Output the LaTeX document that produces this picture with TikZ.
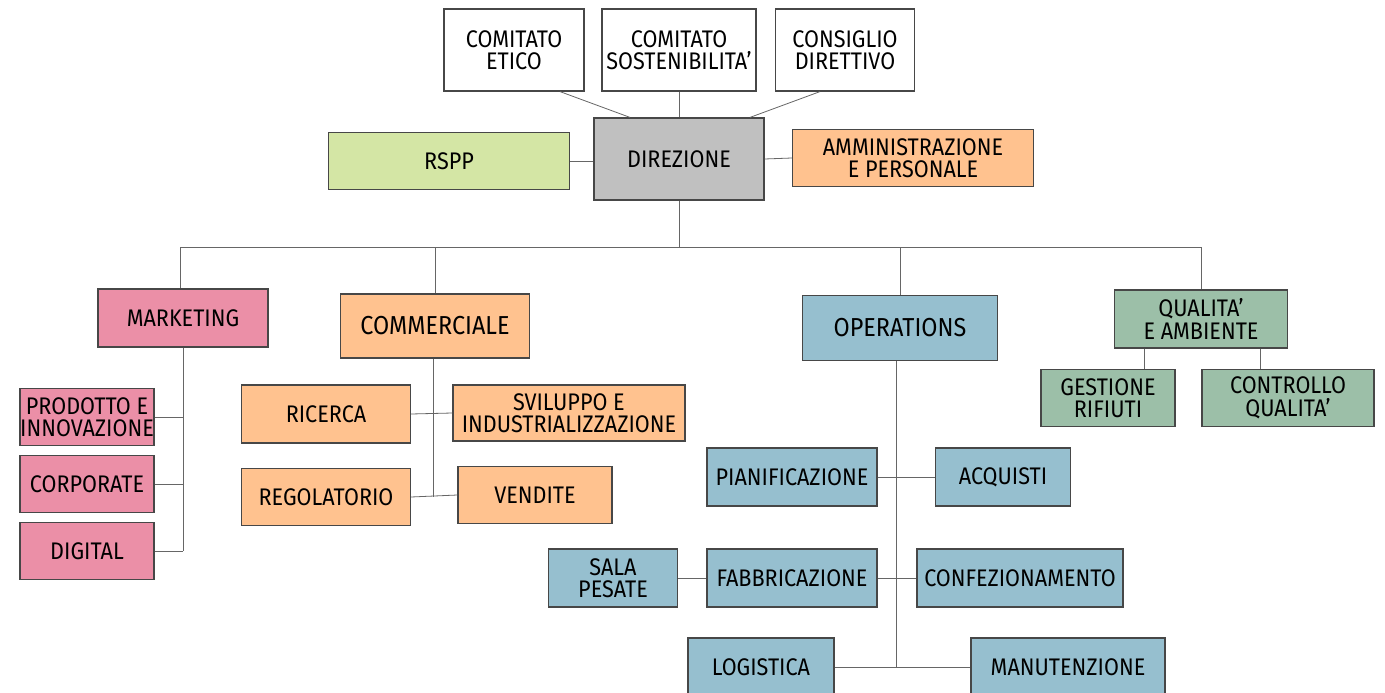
\documentclass[tikz,border=0pt]{standalone}
\usepackage{fontspec}
\setmainfont{Fira Sans}[FakeStretch=0.9]
\usepackage{xcolor}
\usepackage{tikz}
\definecolor{pinkunit}{HTML}{EB8FA7}
\definecolor{orangeunit}{HTML}{FFC28F}
\definecolor{blueunit}{HTML}{96BFCF}
\definecolor{sageunit}{HTML}{9CBFA8}
\definecolor{limeunit}{HTML}{D4E6A5}
\definecolor{grayunit}{HTML}{C0C0C0}

\begin{document}
\begin{tikzpicture}[x=1pt,y=-1pt,node distance=100pt]
    \tikzstyle{unit} = [rectangle, draw=black!72, line width=1.2pt, fill=white, align=center,
       inner sep=0pt, minimum height=57pt, font=\fontsize{24}{22.5}\selectfont]
    \tikzstyle{link} = [draw=black!60, line width=0.8pt]
    \useasboundingbox (0,0) rectangle (1385,693);
    %top
    \node[unit, fill=grayunit, minimum width=170pt, minimum height=82pt] (direz) at (679,159) {DIREZIONE};
    \node[unit, minimum width=140pt, minimum height=82pt] (etico) [left of=direz, xshift=-65pt, yshift=109pt] {COMITATO\\ETICO};
    \node[unit, minimum width=154pt, minimum height=82pt] (sosten) [above of=direz, yshift=9pt] {COMITATO\\SOSTENIBILITA'};
    \node[unit, minimum width=139pt, minimum height=82pt] (consiglio) [right of=direz, xshift=66pt, yshift=109pt] {CONSIGLIO\\DIRETTIVO};
    \node[unit, fill=limeunit, minimum width=241pt] (rspp) [left of=direz, xshift=-130pt, yshift=-2pt] {RSPP};
    \node[unit, fill=orangeunit, minimum width=241pt] (ammin) [right of=direz, xshift=134pt, yshift=1pt] {AMMINISTRAZIONE\\E PERSONALE};
    %areas
    \node[unit, fill=pinkunit, minimum width=170pt, minimum height=58pt] (mkt) [below of=direz, xshift=-496pt, yshift=-59pt] {MARKETING};
    \node[unit, fill=orangeunit, minimum width=189pt, minimum height=64pt, font=\fontsize{26}{24}\selectfont] (comm) [below of=direz, xshift=-244pt, yshift=-67pt] {COMMERCIALE};
    \node[unit, fill=blueunit, minimum width=195pt, minimum height=65pt, font=\fontsize{26}{24}\selectfont] (ops) [below of=direz, xshift=221pt, yshift=-69pt] {OPERATIONS};
    \node[unit, fill=sageunit, minimum width=173pt, minimum height=58pt] (qual) [below of=direz, xshift=522pt, yshift=-60pt] {QUALITA'\\E AMBIENTE};
    %marketing
    \node[unit, fill=pinkunit, minimum width=134pt] (prodotto) [below of=mkt, xshift=-96pt, yshift=1pt] {PRODOTTO E\\INNOVAZIONE};
    \node[unit, fill=pinkunit, minimum width=134pt] (corporate) [below of=prodotto, yshift=33pt] {CORPORATE};
    \node[unit, fill=pinkunit, minimum width=134pt] (digital) [below of=corporate, yshift=33pt] {DIGITAL};
    %commerciale
    \node[unit, fill=orangeunit, minimum width=169pt, minimum height=58pt] (ricerca) [below of=comm, xshift=-109pt, yshift=12pt] {RICERCA};
    \node[unit, fill=orangeunit, minimum width=232pt, minimum height=56pt] (sviluppo) [right of=ricerca, xshift=143pt, yshift=1pt] {SVILUPPO E\\INDUSTRIALIZZAZIONE};
    \node[unit, fill=orangeunit, minimum width=169pt] (regol) [below of=ricerca, yshift=17pt] {REGOLATORIO};
    \node[unit, fill=orangeunit, minimum width=154pt] (vendite) [right of=regol, xshift=109pt, yshift=2pt] {VENDITE};
    %operations
    \node[unit, fill=blueunit, minimum width=170pt, minimum height=58pt] (pianif) [below of=ops, xshift=-108pt, yshift=-49pt] {PIANIFICAZIONE};
    \node[unit, fill=blueunit, minimum width=135pt, minimum height=58pt] (acquisti) [right of=pianif, xshift=111pt] {ACQUISTI};
    \node[unit, fill=blueunit, minimum width=170pt, minimum height=58pt] (fabbr) [below of=pianif, yshift=-1pt] {FABBRICAZIONE};
    \node[unit, fill=blueunit, minimum width=129pt, minimum height=58pt] (sala) [left of=fabbr, xshift=-79pt] {SALA\\PESATE};
    \node[unit, fill=blueunit, minimum width=206pt, minimum height=58pt] (confez) [right of=fabbr, xshift=128pt] {CONFEZIONAMENTO};
    \node[unit, fill=blueunit, minimum width=146pt, minimum height=58pt] (logistica) [below of=fabbr, xshift=-31pt, yshift=11pt] {LOGISTICA};
    \node[unit, fill=blueunit, minimum width=194pt, minimum height=58pt] (manut) [right of=logistica, xshift=207pt] {MANUTENZIONE};
    %qualita
    \node[unit, fill=sageunit, minimum width=134pt] (gestione) [below of=qual, xshift=-93pt, yshift=21pt] {GESTIONE\\RIFIUTI};
    \node[unit, fill=sageunit, minimum width=172pt] (controllo) [right of=gestione, xshift=80pt] {CONTROLLO\\QUALITA'};
    %lines
    \coordinate (bus) at (679,247);
    \path [link] ([xshift=46pt]etico.south) -- ([xshift=-49pt]direz.north);
    \path [link] (sosten.south) -- (direz.north);
    \path [link] ([xshift=-25pt]consiglio.south) -- ([xshift=71pt]direz.north);
    \path [link] (rspp.east) -- (rspp.east -| direz.west);
    \path [link] (direz.east) -- (ammin.west);
    \path [link] (direz.south) -- (bus);
    \path [link] ([xshift=-3pt]mkt.north |- bus) -- (qual.north |- bus);
    \path [link] ([xshift=-3pt]mkt.north |- bus) -- ([xshift=-3pt]mkt.north);
    \foreach \area in {comm, ops, qual}
      \path [link] (\area.north |- bus) -- (\area.north);

    \path [link] (mkt.south) -- (mkt.south |- digital.east);
    \foreach \sub in {prodotto, corporate, digital}
      \path [link] (\sub.east) -- (\sub.east -| mkt.south);

    \path [link] ([xshift=-2pt]comm.south) -- ([xshift=-2pt]comm.south |- regol.east);
    \path [link] (ricerca.east) -- (sviluppo.west);
    \path [link] (regol.east) -- (vendite.west);

    \path [link] ([xshift=-4pt]ops.south) -- ([xshift=-4pt]ops.south |- logistica.east);
    \path [link] (pianif.east) -- (acquisti.west);
    \path [link] (sala.east) -- (fabbr.west);
    \path [link] (fabbr.east) -- (confez.west);
    \path [link] (logistica.east) -- (manut.west);

    \path [link] ([xshift=-57pt]qual.south) -- ([xshift=36pt]gestione.north);
    \path [link] ([xshift=59pt]qual.south) -- ([xshift=-28pt]controllo.north);
\end{tikzpicture}
\end{document}
